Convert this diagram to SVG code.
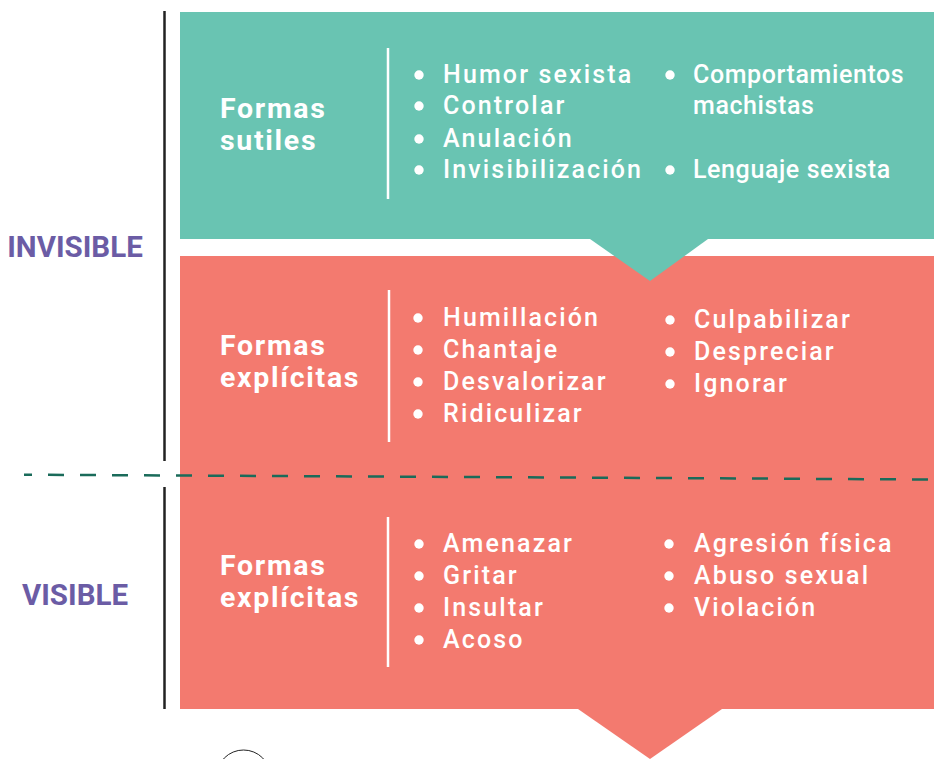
<svg xmlns="http://www.w3.org/2000/svg" width="934" height="759" viewBox="0 0 934 759">
<style>
.teal{fill:#69C4B2}
.red{fill:#F37A6F}
.div{stroke:#ffffff;stroke-width:2.5}
.head{font-family:Roboto,"Liberation Sans",sans-serif;font-weight:700;font-size:28.5px;letter-spacing:1.7px;fill:#ffffff}
.item{font-family:Roboto,"Liberation Sans",sans-serif;font-weight:500;font-size:25px;letter-spacing:2.15px;fill:#ffffff}
.item2{font-family:Roboto,"Liberation Sans",sans-serif;font-weight:500;font-size:25px;letter-spacing:0.6px;fill:#ffffff}
.side{font-family:Roboto,"Liberation Sans",sans-serif;font-weight:700;font-size:29.5px;fill:#6B5CA5;text-anchor:middle}
.dot{fill:#ffffff}
</style>
<g id="background">
<rect class="red" x="180" y="256" width="754" height="453"/>
<polygon class="red" points="578,709 722,709 650,759"/>
</g>
<g id="sutiles">
<rect class="teal" x="180" y="12" width="754" height="227"/>
<polygon class="teal" points="590,239 708,239 650,281"/>
<line class="div" x1="388" y1="48" x2="388" y2="199"/>
<text class="head" x="220" y="118">Formas</text>
<text class="head" x="220" y="150">sutiles</text>
<circle class="dot" cx="419" cy="75" r="4.7"/>
<circle class="dot" cx="419" cy="106" r="4.7"/>
<circle class="dot" cx="419" cy="139" r="4.7"/>
<circle class="dot" cx="419" cy="170" r="4.7"/>
<text class="item" x="443" y="83">Humor sexista</text>
<text class="item" x="443" y="114">Controlar</text>
<text class="item" x="443" y="147">Anulación</text>
<text class="item" x="443" y="178">Invisibilización</text>
<circle class="dot" cx="670" cy="75" r="4.7"/>
<circle class="dot" cx="670" cy="170" r="4.7"/>
<text class="item2" x="693" y="83">Comportamientos</text>
<text class="item2" x="693" y="114">machistas</text>
<text class="item2" x="693" y="178">Lenguaje sexista</text>
</g>
<g id="explicitas-invisible">
<line class="div" x1="389" y1="290" x2="389" y2="442"/>
<text class="head" x="220" y="355">Formas</text>
<text class="head" x="220" y="387">explícitas</text>
<circle class="dot" cx="418" cy="318" r="4.7"/>
<circle class="dot" cx="418" cy="350" r="4.7"/>
<circle class="dot" cx="418" cy="382" r="4.7"/>
<circle class="dot" cx="418" cy="414" r="4.7"/>
<text class="item" x="443" y="326">Humillación</text>
<text class="item" x="443" y="358">Chantaje</text>
<text class="item" x="443" y="390">Desvalorizar</text>
<text class="item" x="443" y="422">Ridiculizar</text>
<circle class="dot" cx="670" cy="320" r="4.7"/>
<circle class="dot" cx="670" cy="352" r="4.7"/>
<circle class="dot" cx="670" cy="384" r="4.7"/>
<text class="item" x="694" y="328">Culpabilizar</text>
<text class="item" x="694" y="360">Despreciar</text>
<text class="item" x="694" y="392">Ignorar</text>
</g>
<g id="explicitas-visible">
<line class="div" x1="388" y1="517" x2="388" y2="667"/>
<text class="head" x="220" y="575">Formas</text>
<text class="head" x="220" y="607">explícitas</text>
<circle class="dot" cx="419" cy="544" r="4.7"/>
<circle class="dot" cx="419" cy="576" r="4.7"/>
<circle class="dot" cx="419" cy="608" r="4.7"/>
<circle class="dot" cx="419" cy="640" r="4.7"/>
<text class="item" x="443" y="552">Amenazar</text>
<text class="item" x="443" y="584">Gritar</text>
<text class="item" x="443" y="616">Insultar</text>
<text class="item" x="443" y="648">Acoso</text>
<circle class="dot" cx="669" cy="544" r="4.7"/>
<circle class="dot" cx="669" cy="576" r="4.7"/>
<circle class="dot" cx="669" cy="608" r="4.7"/>
<text class="item" x="694" y="552">Agresión física</text>
<text class="item" x="694" y="584">Abuso sexual</text>
<text class="item" x="694" y="616">Violación</text>
</g>
<g id="labels">
<text class="side" x="75" y="257">INVISIBLE</text>
<text class="side" x="75" y="605">VISIBLE</text>
</g>
<g id="connectors">
<line x1="164.5" y1="11" x2="164.5" y2="461" stroke="#222222" stroke-width="2.5"/>
<line x1="164.5" y1="487" x2="164.5" y2="709" stroke="#222222" stroke-width="2.5"/>
<line x1="24" y1="474.7" x2="934" y2="479.5" stroke="#1A6B5A" stroke-width="2.5" stroke-dasharray="16 16" stroke-dashoffset="8"/>
<circle cx="243.5" cy="777" r="27" fill="none" stroke="#222222" stroke-width="1"/>
</g>
</svg>
